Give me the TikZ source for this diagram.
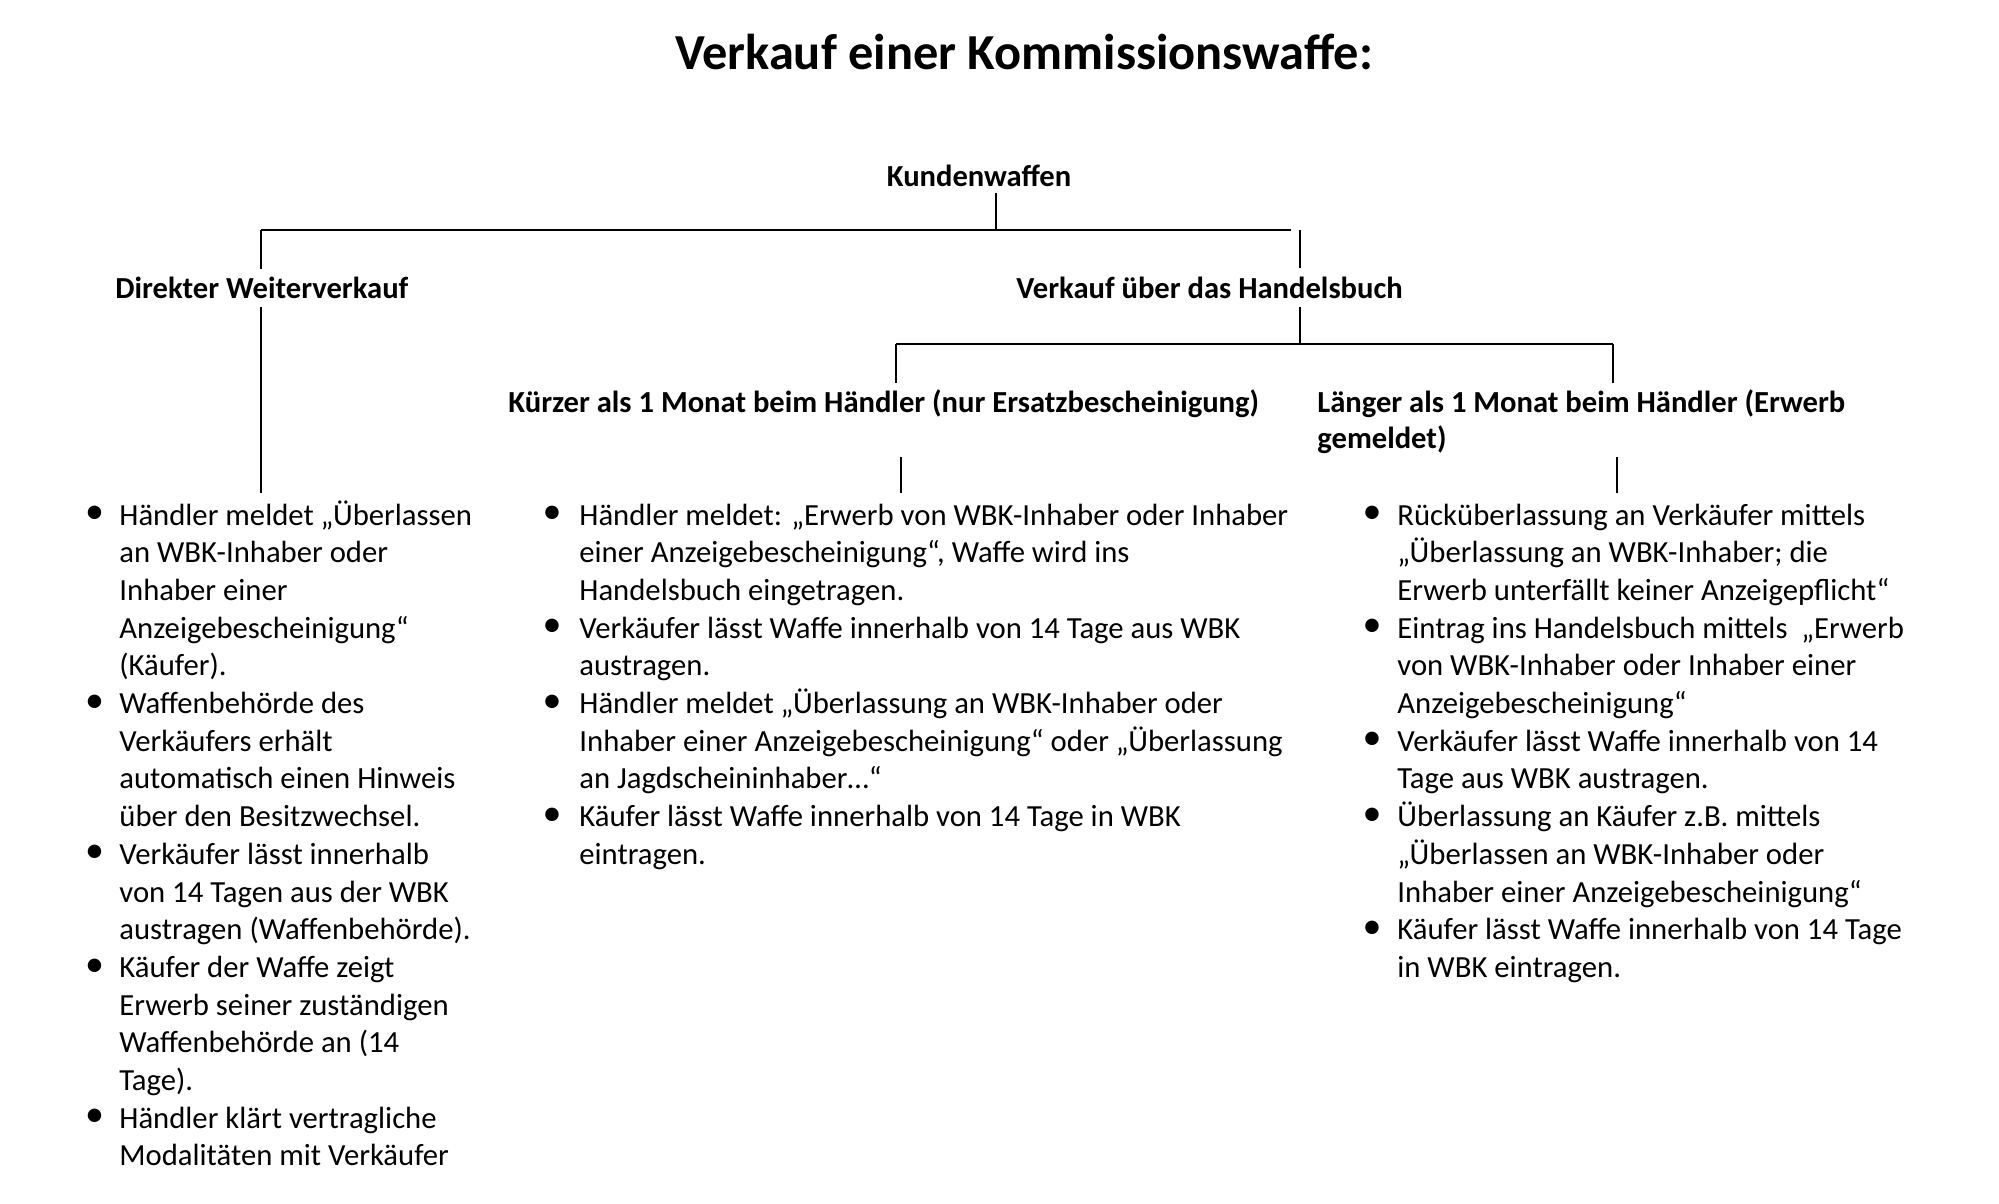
\documentclass[tikz,border=0pt]{standalone}
\usepackage{fontspec}
\setmainfont{Carlito}
\begin{document}
\begin{tikzpicture}[x=0.5pt,y=-0.5pt,
  body/.style={anchor=base west, inner sep=0pt, font=\fontsize{15.35pt}{19pt}\selectfont},
  bul/.style={anchor=center, inner sep=0pt, font=\fontsize{19pt}{22pt}\selectfont},
  head/.style={anchor=base west, inner sep=0pt, font=\bfseries\fontsize{15.3pt}{19pt}\selectfont},
  titlestyle/.style={anchor=base, inner sep=0pt, font=\bfseries\fontsize{25.2pt}{30pt}\selectfont},
  bar/.style={line width=1.4pt},
  stem/.style={line width=1.1pt},
  fine/.style={line width=0.6pt}]
\useasboundingbox (0,0) rectangle (1999,1204);

% headings
\node[titlestyle] (title) at (1024,69.5) {Verkauf einer Kommissionswaffe:};
\node[head, anchor=base] (kw) at (979,186.5) {Kundenwaffen};
\node[head] (dw) at (115,298) {Direkter Weiterverkauf};
\node[head] (hb) at (1016,298) {Verkauf über das Handelsbuch};
\node[head] (kz) at (508,412) {Kürzer als 1 Monat beim Händler (nur Ersatzbescheinigung)};
\node[head] (lg) at (1317,412) {Länger als 1 Monat beim Händler (Erwerb};
\node[head] (lg2) at (1317,448) {gemeldet)};

% connector points
\coordinate (kwS) at (996,193);
\coordinate (kwJ) at (996,230);
\coordinate (b1L) at (261,230);
\coordinate (b1R) at (1291,230);
\coordinate (dwT) at (261,269);
\coordinate (hbJ) at (1300,230);
\coordinate (hbT) at (1300,268);
\coordinate (dwB) at (261,307);
\coordinate (dwE) at (261,493);
\coordinate (hbB) at (1300,307);
\coordinate (hbE) at (1300,344);
\coordinate (b2L) at (896,344);
\coordinate (b2R) at (1613,344);
\coordinate (kzT) at (896,383);
\coordinate (lgT) at (1613,383);
\coordinate (kzB) at (901,457);
\coordinate (kzE) at (901,493);
\coordinate (lgB) at (1617,457);
\coordinate (lgE) at (1617,493);

\draw[stem] (kwS) -- (kwJ);
\draw[bar] (b1L) -- (b1R);
\draw[stem] (b1L) -- (dwT);
\draw[stem] (hbJ) -- (hbT);
\draw[fine] (dwB) -- (dwE);
\draw[stem] (hbB) -- (hbE);
\draw[bar] (b2L) -- (b2R);
\draw[stem] (b2L) -- (kzT);
\draw[stem] (b2R) -- (lgT);
\draw[fine] (kzB) -- (kzE);
\draw[fine] (lgB) -- (lgE);

% left column
\foreach \b/\t [count=\i from 0] in {
 1/{Händler meldet „Überlassen},
 0/{an WBK-Inhaber oder},
 0/{Inhaber einer},
 0/{Anzeigebescheinigung“},
 0/{(Käufer).},
 1/{Waffenbehörde des},
 0/{Verkäufers erhält},
 0/{automatisch einen Hinweis},
 0/{über den Besitzwechsel.},
 1/{Verkäufer lässt innerhalb},
 0/{von 14 Tagen aus der WBK},
 0/{austragen (Waffenbehörde).},
 1/{Käufer der Waffe zeigt},
 0/{Erwerb seiner zuständigen},
 0/{Waffenbehörde an (14},
 0/{Tage).},
 1/{Händler klärt vertragliche},
 0/{Modalitäten mit Verkäufer}}
{
  \node[body] (L\i) at (119,525+37.7*\i) {\t};
  \ifnum\b=1 \node[bul] (LB\i) at (94.5,515+37.7*\i) {•};\fi
}

% middle column
\foreach \b/\t [count=\i from 0] in {
 1/{Händler meldet: „Erwerb von WBK-Inhaber oder Inhaber},
 0/{einer Anzeigebescheinigung“, Waffe wird ins},
 0/{Handelsbuch eingetragen.},
 1/{Verkäufer lässt Waffe innerhalb von 14 Tage aus WBK},
 0/{austragen.},
 1/{Händler meldet „Überlassung an WBK-Inhaber oder},
 0/{Inhaber einer Anzeigebescheinigung“ oder „Überlassung},
 0/{an Jagdscheininhaber…“},
 1/{Käufer lässt Waffe innerhalb von 14 Tage in WBK},
 0/{eintragen.}}
{
  \node[body] (M\i) at (579,525+37.7*\i) {\t};
  \ifnum\b=1 \node[bul] (MB\i) at (552,515+37.7*\i) {•};\fi
}

% right column
\foreach \b/\t [count=\i from 0] in {
 1/{Rücküberlassung an Verkäufer mittels},
 0/{„Überlassung an WBK-Inhaber; die},
 0/{Erwerb unterfällt keiner Anzeigepflicht“},
 1/{Eintrag ins Handelsbuch mittels \ „Erwerb},
 0/{von WBK-Inhaber oder Inhaber einer},
 0/{Anzeigebescheinigung“},
 1/{Verkäufer lässt Waffe innerhalb von 14},
 0/{Tage aus WBK austragen.},
 1/{Überlassung an Käufer z.B. mittels},
 0/{„Überlassen an WBK-Inhaber oder},
 0/{Inhaber einer Anzeigebescheinigung“},
 1/{Käufer lässt Waffe innerhalb von 14 Tage},
 0/{in WBK eintragen.}}
{
  \node[body] (R\i) at (1397,525+37.7*\i) {\t};
  \ifnum\b=1 \node[bul] (RB\i) at (1372,515+37.7*\i) {•};\fi
}
\end{tikzpicture}
\end{document}
